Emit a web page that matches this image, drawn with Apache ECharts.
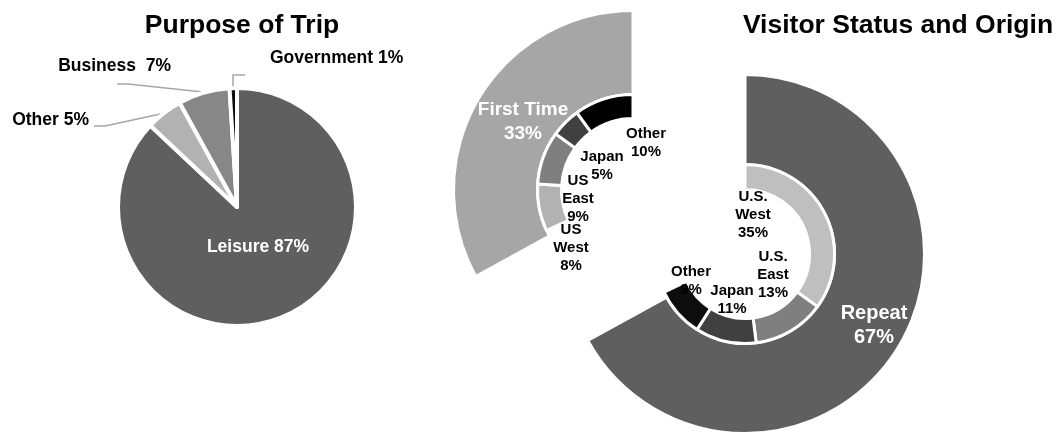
<!DOCTYPE html>
<html>
<head>
<meta charset="utf-8">
<title>Visitor Profile</title>
<script src="https://cdn.jsdelivr.net/npm/echarts@6/dist/echarts.min.js"></script>
<style>
  html, body { margin: 0; padding: 0; background: #fff; }
  #chart { width: 1057px; height: 434px; }
</style>
</head>
<body>
<div id="chart"></div>
<script>
// Purpose of trip (share of visitors, %)
const tripCategories = ['Leisure', 'Other', 'Business', 'Government'];
const tripShares = [87, 5, 7, 1];

// Visitor status (%)
const statusCategories = ['Repeat', 'First Time'];
const statusShares = [67, 33];

// Origin of repeat visitors (%)
const repeatOrigins = ['U.S.\nWest', 'U.S.\nEast', 'Japan', 'Other'];
const repeatShares = [35, 13, 11, 9];

// Origin of first-time visitors (%)
const firstOrigins = ['US\nWest', 'US\nEast', 'Japan', 'Other'];
const firstShares = [8, 9, 5, 10];

const FONT = '"Liberation Sans", Arial, Helvetica, sans-serif';
const HIDDEN = 'rgba(0,0,0,0)';

const tripColors = ['#5f5f5f', '#b2b2b2', '#878787', '#0d0d0d'];
const statusColors = ['#5f5f5f', '#a6a6a6'];
const repeatColors = ['#bfbfbf', '#7f7f7f', '#404040', '#0d0d0d'];
const firstColors = ['#b2b2b2', '#7f7f7f', '#404040', '#000000'];

// label anchors (pixel positions of label centres / leader lines)
const tripLabelPlace = [
  { x: 258, y: 247, align: 'center' },
  { x: 89, y: 120, align: 'right', line: [[165, 113], [105, 126], [94, 126]] },
  { x: 171, y: 66, align: 'right', line: [[203, 92], [128, 84], [117, 84]] },
  { x: 270, y: 58, align: 'left', line: [[233, 88], [233, 75], [245, 75]] }
];
const statusLabelPlace = { 'Repeat': [874, 325], 'First Time': [523, 122] };
const repeatLabelPlace = [[753, 215], [773, 275], [732, 300], [691, 281]];
const firstLabelPlace = [[571, 248], [578, 199], [602, 166], [646, 143]];

const hiddenItem = (name, value) => ({
  name, value,
  itemStyle: { color: HIDDEN, borderWidth: 0 },
  label: { show: false },
  labelLine: { show: false },
  emphasis: { disabled: true }
});

const centerLabel = (place) => function (p) {
  const pos = place(p.dataIndex);
  if (!pos) return {};
  return { x: pos[0], y: pos[1], align: 'center', verticalAlign: 'middle' };
};

const repeatCenter = [745, 254];
const firstCenter = [633, 190];

const option = {
  animation: false,
  backgroundColor: '#ffffff',
  textStyle: { fontFamily: FONT },
  title: [
    {
      text: 'Purpose of Trip', left: 237, top: 7, textAlign: 'center',
      textStyle: { fontFamily: FONT, fontSize: 26.5, fontWeight: 'bold', color: '#000' }
    },
    {
      text: 'Visitor Status and Origin', left: 893, top: 7, textAlign: 'center',
      textStyle: { fontFamily: FONT, fontSize: 26.5, fontWeight: 'bold', color: '#000' }
    }
  ],
  series: [
    // Purpose of trip pie
    {
      type: 'pie',
      center: [237, 207],
      radius: 119,
      startAngle: 90,
      clockwise: true,
      avoidLabelOverlap: false,
      silent: true,
      itemStyle: { borderColor: '#fff', borderWidth: 4 },
      label: {
        show: true, position: 'outside',
        fontFamily: FONT, fontSize: 17.5, fontWeight: 'bold', color: '#000',
        formatter: p => p.name + (p.name === 'Business' ? '  ' : ' ') + p.value + '%'
      },
      labelLine: { show: true, lineStyle: { color: '#a6a6a6', width: 1.5 } },
      data: tripCategories.map((n, i) => {
        const item = { name: n, value: tripShares[i], itemStyle: { color: tripColors[i] } };
        if (i === 0) {
          item.label = { position: 'inside', color: '#fff' };
          item.labelLine = { show: false };
        }
        return item;
      }),
      labelLayout: function (p) {
        const pl = tripLabelPlace[p.dataIndex];
        const out = { x: pl.x, y: pl.y, align: pl.align, verticalAlign: 'middle' };
        if (pl.line) out.labelLinePoints = pl.line;
        return out;
      }
    },
    // Status ring: repeat visitors
    {
      type: 'pie',
      center: repeatCenter,
      radius: [89.5, 179.5],
      startAngle: 90,
      clockwise: true,
      avoidLabelOverlap: false,
      silent: true,
      itemStyle: { borderColor: '#fff', borderWidth: 3 },
      label: {
        show: true, position: 'inside',
        fontFamily: FONT, fontSize: 20, fontWeight: 'bold', color: '#fff', lineHeight: 24,
        formatter: p => p.name + '\n' + p.value + '%'
      },
      labelLine: { show: false },
      data: statusCategories.map((n, i) => i === 0
        ? { name: n, value: statusShares[i], itemStyle: { color: statusColors[i] } }
        : hiddenItem(n, statusShares[i])),
      labelLayout: centerLabel(i => statusLabelPlace[statusCategories[i]])
    },
    // Status ring: first-time visitors
    {
      type: 'pie',
      center: firstCenter,
      radius: [95.5, 179.5],
      startAngle: 90,
      clockwise: true,
      avoidLabelOverlap: false,
      silent: true,
      itemStyle: { borderColor: '#fff', borderWidth: 3 },
      label: {
        show: true, position: 'inside',
        fontFamily: FONT, fontSize: 19, fontWeight: 'bold', color: '#fff', lineHeight: 24,
        formatter: p => p.name + '\n' + p.value + '%'
      },
      labelLine: { show: false },
      data: statusCategories.map((n, i) => i === 1
        ? { name: n, value: statusShares[i], itemStyle: { color: statusColors[i] } }
        : hiddenItem(n, statusShares[i])),
      labelLayout: centerLabel(i => statusLabelPlace[statusCategories[i]])
    },
    // Origin ring: repeat visitors
    {
      type: 'pie',
      center: repeatCenter,
      radius: [64.5, 89.5],
      startAngle: 90,
      clockwise: true,
      avoidLabelOverlap: false,
      silent: true,
      itemStyle: { borderColor: '#fff', borderWidth: 3 },
      label: {
        show: true, position: 'inside',
        fontFamily: FONT, fontSize: 15, fontWeight: 'bold', color: '#000', lineHeight: 18,
        formatter: p => p.name + '\n' + p.value + '%'
      },
      labelLine: { show: false },
      data: repeatOrigins.map((n, i) => ({ name: n, value: repeatShares[i], itemStyle: { color: repeatColors[i] } }))
        .concat(firstOrigins.map((n, i) => hiddenItem(n, firstShares[i]))),
      labelLayout: centerLabel(i => repeatLabelPlace[i])
    },
    // Origin ring: first-time visitors
    {
      type: 'pie',
      center: firstCenter,
      radius: [71.5, 95.5],
      startAngle: 90,
      clockwise: true,
      avoidLabelOverlap: false,
      silent: true,
      itemStyle: { borderColor: '#fff', borderWidth: 3 },
      label: {
        show: true, position: 'inside',
        fontFamily: FONT, fontSize: 15, fontWeight: 'bold', color: '#000', lineHeight: 18,
        formatter: p => p.name + '\n' + p.value + '%'
      },
      labelLine: { show: false },
      data: repeatOrigins.map((n, i) => hiddenItem(n, repeatShares[i]))
        .concat(firstOrigins.map((n, i) => ({ name: n, value: firstShares[i], itemStyle: { color: firstColors[i] } }))),
      labelLayout: centerLabel(i => i >= repeatOrigins.length ? firstLabelPlace[i - repeatOrigins.length] : null)
    }
  ]
};

const chart = echarts.init(document.getElementById('chart'), null, { renderer: 'canvas' });
chart.setOption(option);
</script>
</body>
</html>
